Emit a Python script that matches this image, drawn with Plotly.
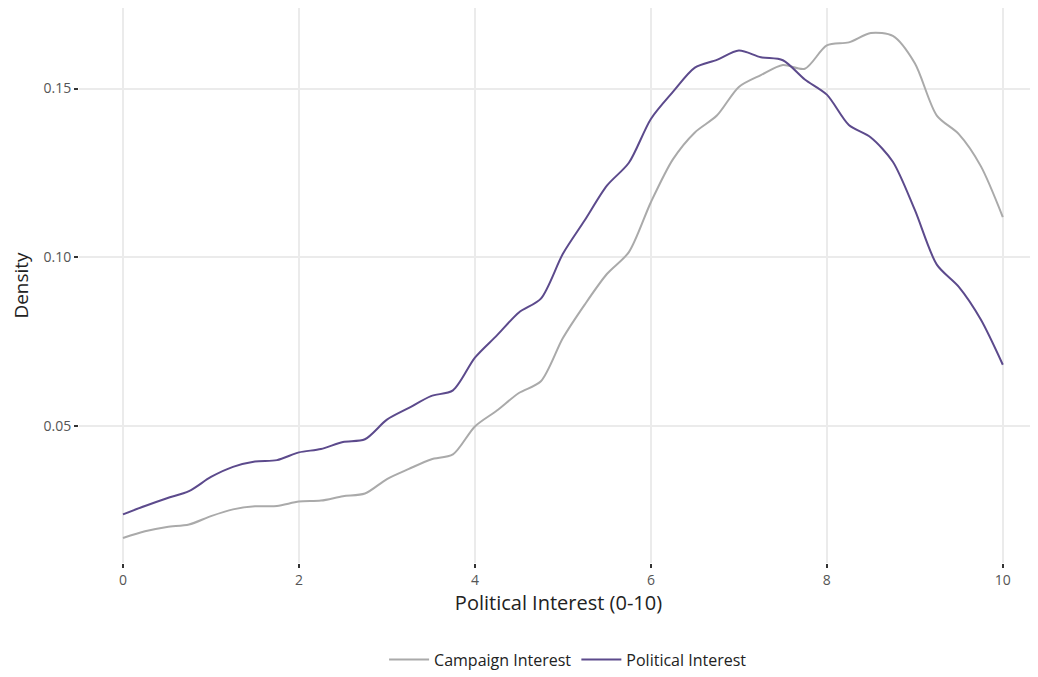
import plotly.graph_objects as go

x_grid = [i * 0.25 for i in range(41)]

political_interest = [
    0.0237, 0.0262, 0.0285, 0.0306, 0.0348, 0.0378, 0.0394, 0.0398,
    0.0421, 0.0431, 0.0452, 0.0460, 0.0518, 0.0553, 0.0588, 0.0605,
    0.0702, 0.0768, 0.0836, 0.0877, 0.1010, 0.1110, 0.1212, 0.1280,
    0.1410, 0.1490, 0.1562, 0.1585, 0.1613, 0.1593, 0.1584, 0.1527,
    0.1482, 0.1392, 0.1355, 0.1283, 0.1140, 0.0978, 0.0912, 0.0815,
    0.0681,
]

campaign_interest = [
    0.0167, 0.0187, 0.0200, 0.0207, 0.0232, 0.0252, 0.0261, 0.0262,
    0.0275, 0.0278, 0.0291, 0.0299, 0.0342, 0.0372, 0.0400, 0.0415,
    0.0498, 0.0545, 0.0597, 0.0632, 0.0760, 0.0860, 0.0950, 0.1015,
    0.1163, 0.1290, 0.1370, 0.1420, 0.1505, 0.1540, 0.1570, 0.1559,
    0.1628, 0.1637, 0.1665, 0.1656, 0.1575, 0.1420, 0.1365, 0.1270,
    0.1119,
]

x_ticks = [0, 2, 4, 6, 8, 10]
y_ticks = [0.05, 0.10, 0.15]
y_tick_labels = ["0.05", "0.10", "0.15"]

FONT = "'Open Sans', Lato, sans-serif"

fig = go.Figure()
fig.add_trace(go.Scatter(
    x=x_grid, y=campaign_interest, mode="lines", name="Campaign Interest",
    line=dict(color="#aaaaaa", width=2, shape="spline", smoothing=0.8),
))
fig.add_trace(go.Scatter(
    x=x_grid, y=political_interest, mode="lines", name="Political Interest",
    line=dict(color="#5c4a8c", width=2, shape="spline", smoothing=0.8),
))

fig.update_layout(
    width=1030, height=669,
    margin=dict(l=71, r=0, t=0, b=111),
    plot_bgcolor="white", paper_bgcolor="white",
    font=dict(family=FONT, color="#555555", size=14),
    showlegend=True,
    legend=dict(
        orientation="h", x=0.51, xanchor="center", y=-0.174, yanchor="middle",
        font=dict(size=16, color="#222222"), itemwidth=40,
    ),
    xaxis=dict(
        range=[-0.5, 10.4], tickvals=x_ticks, ticktext=[str(v) for v in x_ticks],
        showgrid=True, gridcolor="#ebebeb", gridwidth=1.8, zeroline=False,
        ticks="outside", ticklen=4, tickwidth=1.5, tickcolor="#333333",
        tickfont=dict(size=14, color="#555555"),
        title=dict(text="Political Interest (0-10)", font=dict(size=20, color="#222222"), standoff=2),
        showline=False, automargin=False,
    ),
    yaxis=dict(
        range=[0.00929, 0.1739], tickvals=y_ticks, ticktext=y_tick_labels,
        showgrid=True, gridcolor="#ebebeb", gridwidth=1.8, zeroline=False,
        ticks="outside", ticklen=4, tickwidth=1.5, tickcolor="#333333",
        tickfont=dict(size=14, color="#555555"),
        title=dict(text="Density", font=dict(size=19, color="#222222"), standoff=10),
        showline=False, automargin=False,
    ),
)

fig.write_html("out.html")
